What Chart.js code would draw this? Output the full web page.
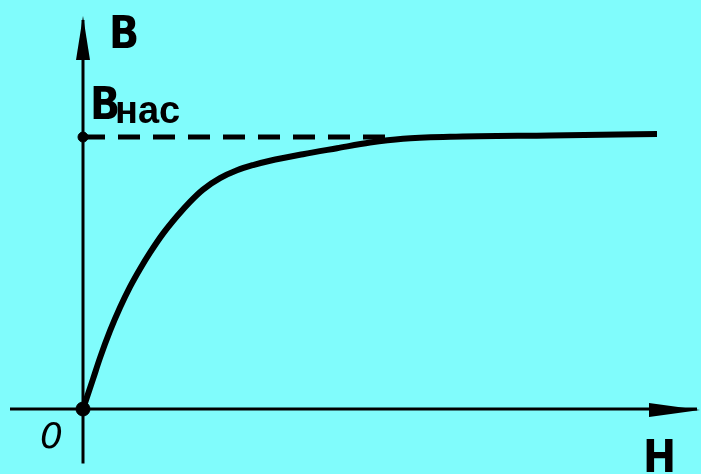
<!DOCTYPE html>
<html>
<head>
<meta charset="utf-8">
<script src="https://cdn.jsdelivr.net/npm/chart.js@4/dist/chart.umd.min.js"></script>
<style>
  html, body { margin: 0; padding: 0; background: #80fcfc; }
  #wrap { width: 701px; height: 474px; }
</style>
</head>
<body>
<div id="wrap"><canvas id="chart-bh" width="701" height="474"></canvas></div>
<script>
// magnetization curve B(H), B normalised to saturation
var curveH = [0, 0.10, 0.17, 0.27, 0.37, 0.47, 0.57, 0.67, 0.80, 0.94, 1.07, 1.20, 1.37, 1.54, 1.70, 1.87, 2.20, 2.54, 2.87, 3.20, 3.67, 4.67, 5.74];
var curveB = [0, 0.110, 0.188, 0.287, 0.373, 0.449, 0.515, 0.575, 0.645, 0.709, 0.762, 0.807, 0.849, 0.878, 0.897, 0.913, 0.937, 0.959, 0.980, 0.994, 1.001, 1.006, 1.011];

// saturation level, drawn dashed up to where the curve meets it
var satH = [0, 3.1];
var satB = [1, 1];

// axes extent
var axisH = [-0.73, 6.14];
var axisB = [-0.2, 1.43];

// marked points on the B axis
var markH = [0, 0];
var markB = [0, 1];

var ink = '#000000';

function toPoints(xs, ys) {
    return xs.map((x, i) => ({ x: x, y: ys[i] }));
}

var arrowsAndLabels = {
    id: 'arrowsAndLabels',
    afterDatasetsDraw(chart) {
        var c = chart.ctx;
        var xs = chart.scales.x;
        var ys = chart.scales.y;
        var x0 = xs.getPixelForValue(0);
        var y0 = ys.getPixelForValue(0);
        var yTop = ys.getPixelForValue(axisB[1]);
        var xEnd = xs.getPixelForValue(axisH[1]);
        var ySat = ys.getPixelForValue(1);

        c.save();
        c.fillStyle = ink;
        // arrow on B axis
        c.beginPath();
        c.moveTo(x0, yTop - 4);
        c.lineTo(x0 + 7, yTop + 40);
        c.lineTo(x0 - 7, yTop + 40);
        c.closePath();
        c.fill();
        // arrow on H axis
        c.beginPath();
        c.moveTo(xEnd + 3, y0 + 1);
        c.lineTo(xEnd - 48, y0 + 8);
        c.lineTo(xEnd - 48, y0 - 6);
        c.closePath();
        c.fill();

        c.textBaseline = 'alphabetic';
        c.font = 'bold 44px "Liberation Sans Narrow", "DejaVu Sans Condensed", sans-serif';
        c.fillText('B', x0 + 26, yTop + 28);
        c.fillText('B', x0 + 7, ySat - 18);
        c.font = 'bold 38px "Liberation Sans", "DejaVu Sans", sans-serif';
        c.fillText('нас', x0 + 32, ySat - 14);
        c.font = 'italic 36px "DejaVu Sans", sans-serif';
        c.fillText('0', x0 - 43, y0 + 39);
        c.font = 'bold 44px "Liberation Sans Narrow", "DejaVu Sans Condensed", sans-serif';
        c.fillText('H', xEnd - 54, y0 + 63);
        c.restore();
    }
};

var ctx = document.getElementById('chart-bh');
new Chart(ctx, {
    type: 'scatter',
    data: {
        datasets: [
            {
                label: 'H axis',
                data: toPoints(axisH, [0, 0]),
                showLine: true,
                borderColor: ink,
                borderWidth: 3,
                pointRadius: 0
            },
            {
                label: 'B axis',
                data: toPoints([0, 0], axisB),
                showLine: true,
                borderColor: ink,
                borderWidth: 3,
                pointRadius: 0
            },
            {
                label: 'Bнас',
                data: toPoints(satH, satB),
                showLine: true,
                borderColor: ink,
                borderWidth: 5,
                borderDash: [22, 13],
                pointRadius: 0
            },
            {
                label: 'B(H)',
                data: toPoints(curveH, curveB),
                showLine: true,
                borderColor: ink,
                borderWidth: 6,
                cubicInterpolationMode: 'monotone',
                pointRadius: 0
            },
            {
                label: 'marks',
                data: toPoints(markH, markB),
                pointRadius: [7, 5],
                pointBackgroundColor: ink,
                pointBorderColor: ink
            }
        ]
    },
    options: {
        responsive: false,
        devicePixelRatio: 1,
        animation: false,
        layout: { padding: 0, autoPadding: false },
        plugins: {
            legend: { display: false },
            tooltip: { enabled: false }
        },
        scales: {
            x: { type: 'linear', display: false, min: -0.83, max: 6.18 },
            y: { type: 'linear', display: false, min: -0.239, max: 1.504 }
        }
    },
    plugins: [arrowsAndLabels]
});
</script>
</body>
</html>
